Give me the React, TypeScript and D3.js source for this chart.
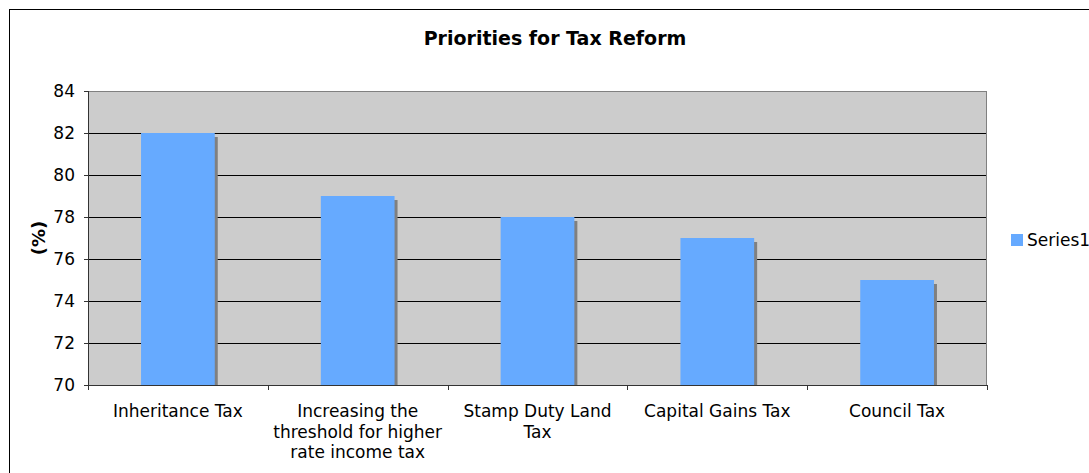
import React from "react";
import * as d3 from "d3";

const categories: string[][] = [
  ["Inheritance Tax"],
  ["Increasing the", "threshold for higher", "rate income tax"],
  ["Stamp Duty Land", "Tax"],
  ["Capital Gains Tax"],
  ["Council Tax"],
];
const values: number[] = [82, 79, 78, 77, 75];
const yTicks: number[] = [70, 72, 74, 76, 78, 80, 82, 84];
const seriesName = "Series1";
const title = "Priorities for Tax Reform";
const yLabel = "(%)";

const W = 1089;
const H = 473;
const plot = { left: 88, top: 91, right: 987, bottom: 385 };
const FONT = "Verdana, 'DejaVu Sans', sans-serif";

export default function App() {
  const x = d3
    .scaleBand<number>()
    .domain(values.map((_, i) => i))
    .range([plot.left, plot.right])
    .paddingInner(0.59)
    .paddingOuter(0.295);
  const y = d3.scaleLinear().domain([70, 84]).range([plot.bottom, plot.top]);
  const step = (plot.right - plot.left) / values.length;
  const bw = x.bandwidth();

  return (
    <svg
      width={W}
      height={H}
      style={{ position: "absolute", left: 0, top: 0, background: "#fff" }}
      fontFamily={FONT}
    >
      <rect x={9.5} y={9.5} width={1200} height={600} fill="#fff" stroke="#000" strokeWidth={1} />
      <text x={555} y={45} textAnchor="middle" fontSize={19} fontWeight="bold" fill="#000">
        {title}
      </text>
      {/* plot area */}
      <rect
        x={plot.left}
        y={plot.top}
        width={plot.right - plot.left}
        height={plot.bottom - plot.top}
        fill="#cccccc"
      />
      {yTicks.slice(1, -1).map((t) => (
        <line key={t} x1={plot.left} x2={plot.right} y1={Math.round(y(t)) + 0.5} y2={Math.round(y(t)) + 0.5} stroke="#000" strokeWidth={1} />
      ))}
      <rect
        x={plot.left + 0.5}
        y={plot.top + 0.5}
        width={plot.right - plot.left - 1}
        height={plot.bottom - plot.top}
        fill="none"
        stroke="#808080"
        strokeWidth={1}
      />
      {/* bars */}
      {values.map((v, i) => {
        const bx = x(i)!;
        const by = y(v);
        return (
          <g key={i}>
            <rect x={bx + 3} y={by + 4} width={bw} height={plot.bottom - by - 4} fill="#808080" />
            <rect x={bx} y={by} width={bw} height={plot.bottom - by} fill="#66aaff" />
          </g>
        );
      })}
      {/* y axis */}
      <line x1={plot.left + 0.5} x2={plot.left + 0.5} y1={plot.top} y2={plot.bottom + 1} stroke="#333" strokeWidth={1} />
      {yTicks.map((t) => (
        <g key={t}>
          <line x1={plot.left - 4} x2={plot.left} y1={Math.round(y(t)) + 0.5} y2={Math.round(y(t)) + 0.5} stroke="#333" />
          <text x={plot.left - 13} y={y(t)} dy="0.35em" textAnchor="end" fontSize={17} fill="#000">
            {t}
          </text>
        </g>
      ))}
      <text
        transform={`translate(45,${(plot.top + plot.bottom) / 2}) rotate(-90)`}
        textAnchor="middle"
        fontSize={18}
        fontWeight="bold"
        fill="#000"
      >
        {yLabel}
      </text>
      {/* x axis */}
      <line x1={plot.left} x2={plot.right} y1={plot.bottom + 0.5} y2={plot.bottom + 0.5} stroke="#333" strokeWidth={1} />
      {d3.range(values.length + 1).map((i) => {
        const tx = Math.round(plot.left + i * step) + 0.5;
        return <line key={i} x1={tx} x2={tx} y1={plot.bottom} y2={plot.bottom + 5} stroke="#333" />;
      })}
      {categories.map((lines, i) => {
        const cx = plot.left + (i + 0.5) * step;
        return (
          <text key={i} textAnchor="middle" fontSize={17} fill="#000">
            {lines.map((l, j) => (
              <tspan key={j} x={cx} y={417 + j * 20.5}>
                {l}
              </tspan>
            ))}
          </text>
        );
      })}
      {/* legend */}
      <rect x={1011} y={234} width={12} height={12} fill="#66aaff" />
      <text x={1027} y={246} fontSize={17} fill="#000">
        {seriesName}
      </text>
    </svg>
  );
}
